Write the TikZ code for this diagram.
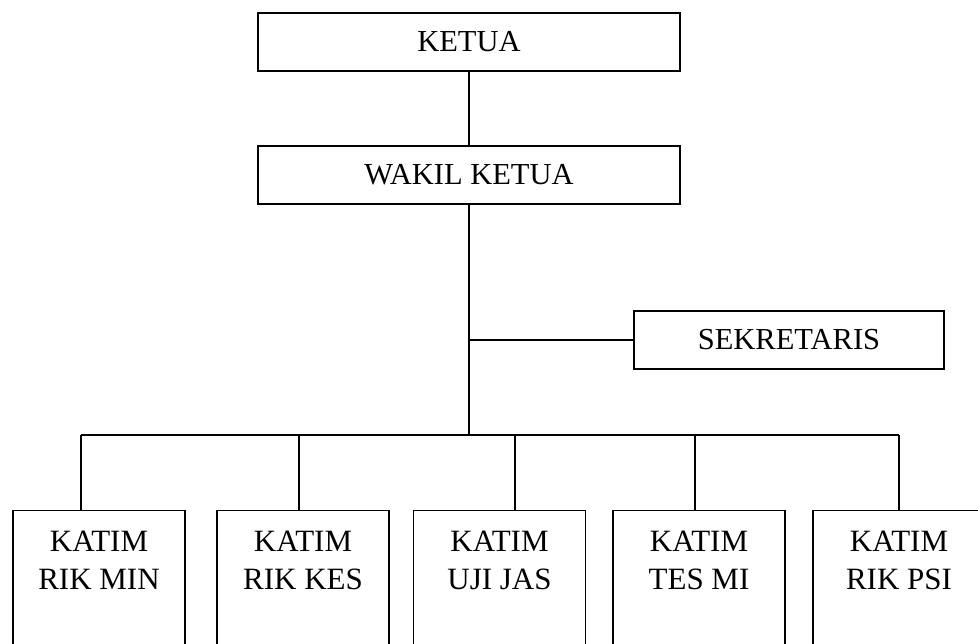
\documentclass[tikz,border=0pt]{standalone}
\usepackage{fontspec}
\setmainfont{Liberation Serif}

\begin{document}
\begin{tikzpicture}[x=1pt,y=-1pt,line width=1.1pt,
  unit/.style={draw,minimum width=422pt,minimum height=58pt,inner sep=0pt,
    font=\fontsize{30.5}{38}\selectfont},
  katim/.style={draw,anchor=north,minimum width=172pt,minimum height=200pt,inner sep=0pt},
  tag/.style={anchor=north,align=center,inner sep=0pt,yshift=-20pt,
    font=\fontsize{31}{38}\selectfont}]
  \useasboundingbox (0,0) rectangle (978,644);
  \clip (0,0) rectangle (978,644);
  \node[unit] (ketua) at (469,42) {KETUA};
  \node[unit] (wakil) at (469,175) {WAKIL KETUA};
  \node[unit,minimum width=310pt] (sekr) at (789,340) {SEKRETARIS};
  % bagian bawah
  \foreach \i/\cx/\dx/\sub in {1/99/81/RIK MIN,2/303/299/RIK KES,3/499.5/515/UJI JAS,
    4/699/695/TES MI,5/899/899/RIK PSI} {
    \node[katim,label={[tag]north:KATIM\\\sub}] (k\i) at (\cx,510) {};
    \coordinate (d\i) at (\dx,435);
    \draw (d\i) -- (d\i |- k\i.north);
  }
  \draw (ketua) -- (wakil);
  \draw (wakil.south) -- (wakil.south |- d1);
  \draw (d1) -- (d5);
  \draw (sekr.west) -- (sekr.west -| wakil.south);
\end{tikzpicture}
\end{document}
